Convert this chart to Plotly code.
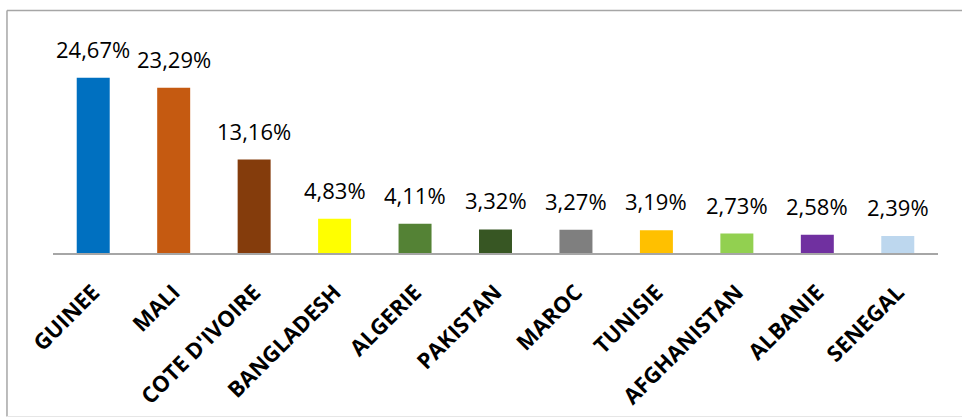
import plotly.graph_objects as go

countries = ["GUINEE", "MALI", "COTE D'IVOIRE", "BANGLADESH", "ALGERIE", "PAKISTAN",
             "MAROC", "TUNISIE", "AFGHANISTAN", "ALBANIE", "SENEGAL"]
shares = [24.67, 23.29, 13.16, 4.83, 4.11, 3.32, 3.27, 3.19, 2.73, 2.58, 2.39]
labels = ["24,67%", "23,29%", "13,16%", "4,83%", "4,11%", "3,32%", "3,27%",
          "3,19%", "2,73%", "2,58%", "2,39%"]
colors = ["#0070C0", "#C55A11", "#843C0C", "#FFFF00", "#548235", "#375623",
          "#7F7F7F", "#FFC000", "#92D050", "#7030A0", "#BDD7EE"]

fig = go.Figure()
fig.add_trace(go.Bar(x=countries, y=shares, marker=dict(color=colors, line=dict(width=0)),
                     hoverinfo="skip"))

for c, v, t in zip(countries, shares, labels):
    fig.add_annotation(x=c, y=v, text=t, showarrow=False, yanchor="bottom",
                       yshift=12, font=dict(family="Open Sans", size=22, color="#000000"))

# outer frame (left, top, bottom)
fig.add_shape(type="line", xref="paper", yref="paper", x0=-0.052, x1=-0.052, y0=1.1385, y1=-0.7676,
              line=dict(color="#A6A6A6", width=1.5))
fig.add_shape(type="line", xref="paper", yref="paper", x0=-0.052, x1=1.04, y0=1.1385, y1=1.1385,
              line=dict(color="#A6A6A6", width=1.5))
fig.add_shape(type="line", xref="paper", yref="paper", x0=-0.052, x1=1.04, y0=-0.7676, y1=-0.7676,
              line=dict(color="#E6E6E6", width=1))

fig.update_layout(
    width=962, height=419,
    margin=dict(l=53, r=24, t=40, b=166, autoexpand=False),
    plot_bgcolor="white", paper_bgcolor="white",
    bargap=0.59, showlegend=False,
    xaxis=dict(showline=True, linecolor="#A6A6A6", linewidth=1.5, ticks="",
               tickangle=-45, ticklabelstandoff=16,
               tickfont=dict(family="Open Sans", size=22, color="#000000", weight="bold"),
               showgrid=False, fixedrange=True, automargin=False),
    yaxis=dict(range=[0, 30], visible=False, showgrid=False, fixedrange=True),
)

fig.write_html("out.html", config={"displayModeBar": False},
               post_script="document.body.style.margin='0';document.body.style.overflow='hidden';")
